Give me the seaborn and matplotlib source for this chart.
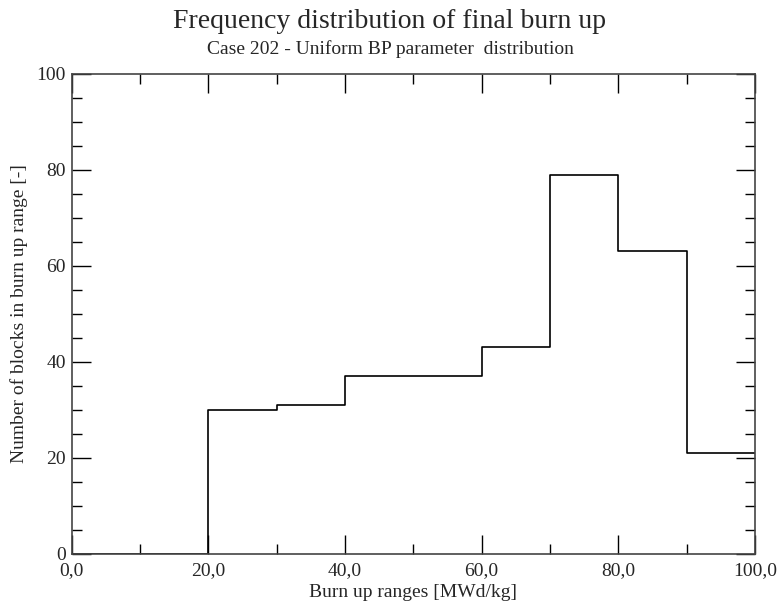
import numpy as np
import pandas as pd
import matplotlib
matplotlib.use("Agg")
import matplotlib.pyplot as plt
import seaborn as sns
from matplotlib.ticker import MultipleLocator, FuncFormatter

# Bin data
bin_edges = [0, 10, 20, 30, 40, 50, 60, 70, 80, 90, 100]
bin_centers = [5, 15, 25, 35, 45, 55, 65, 75, 85, 95]
block_counts = [0, 0, 30, 31, 37, 37, 43, 79, 63, 21]

title = "Frequency distribution of final burn up"
subtitle = "Case 202 - Uniform BP parameter  distribution"
x_label = "Burn up ranges [MWd/kg]"
y_label = "Number of blocks in burn up range [-]"

sns.set_style("ticks")
plt.rcParams["font.family"] = ["Liberation Serif", "DejaVu Serif"]

df = pd.DataFrame({"burnup": bin_centers, "count": block_counts})

fig = plt.figure(figsize=(7.8, 6.06), dpi=100)
ax = fig.add_axes([71.5 / 780, 1 - 553.5 / 606, (755 - 71.5) / 780, (553.5 - 74) / 606])

sns.histplot(
    data=df,
    x="burnup",
    weights="count",
    bins=bin_edges,
    element="step",
    fill=False,
    color="black",
    linewidth=1.2,
    ax=ax,
)

ax.set_xlim(0, 100)
ax.set_ylim(0, 100)

ax.xaxis.set_major_locator(MultipleLocator(20))
ax.xaxis.set_minor_locator(MultipleLocator(10))
ax.yaxis.set_major_locator(MultipleLocator(20))
ax.yaxis.set_minor_locator(MultipleLocator(5))
ax.xaxis.set_major_formatter(FuncFormatter(lambda v, p: f"{v:.1f}".replace(".", ",")))
ax.yaxis.set_major_formatter(FuncFormatter(lambda v, p: f"{v:.0f}"))

ax.tick_params(which="both", direction="in", top=True, right=True, color="black", width=1.0)
ax.tick_params(which="major", length=14, labelsize=14)
ax.tick_params(which="minor", length=7)
ax.tick_params(axis="x", which="major", pad=6.5)
ax.tick_params(axis="y", which="major", pad=4)

for spine in ax.spines.values():
    spine.set_color("#444444")
    spine.set_linewidth(1.2)
    spine.set_visible(True)

ax.set_xlabel(x_label, fontsize=14, labelpad=3)
ax.set_ylabel(y_label, fontsize=14, labelpad=6)

fig.text(0.5, 1 - 28 / 606, title, ha="center", va="baseline", fontsize=20)
fig.text(0.5, 1 - 54 / 606, subtitle, ha="center", va="baseline", fontsize=14)

fig.savefig("out.png", dpi=100)
